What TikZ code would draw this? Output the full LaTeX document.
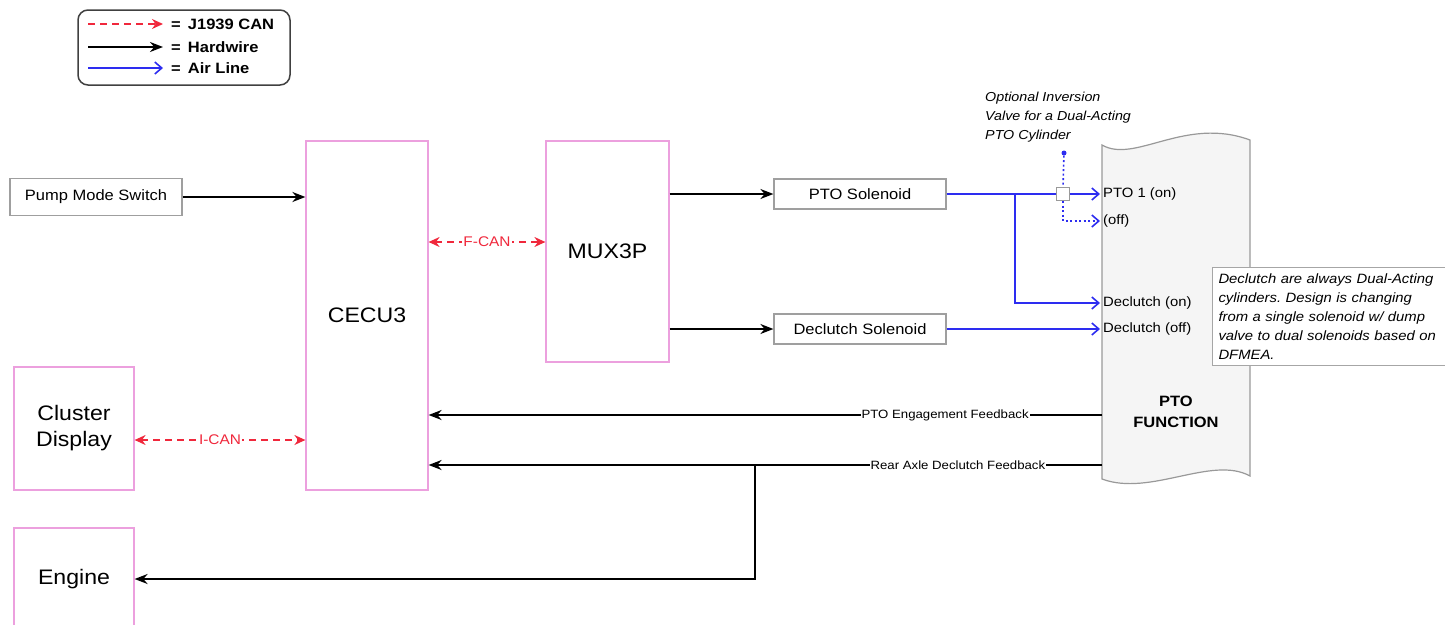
\documentclass[tikz,border=0pt]{standalone}
\usepackage{fontspec}
\setmainfont{Liberation Sans}[FakeStretch=1.1]
\usepackage{xcolor}
\usepackage{tikz}
\usetikzlibrary{arrows.meta, positioning}

\definecolor{unitpink}{RGB}{236,160,222}
\definecolor{canred}{RGB}{240,40,60}
\definecolor{airblue}{RGB}{45,45,240}

\begin{document}
\frenchspacing
\begin{tikzpicture}[
  x=1pt, y=-1pt,
  blk/.style={rectangle, draw=gray!75, line width=1.2pt, fill=white, minimum width=172pt, minimum height=30pt, font=\fontsize{15}{18}\selectfont},
  unit/.style={rectangle, draw=unitpink, line width=1.2pt, fill=white, font=\fontsize{21}{26}\selectfont, align=center},
  hw/.style={line width=1.8pt, >={Stealth[length=13pt, width=10pt]}},
  can/.style={line width=1.5pt, canred, dash pattern=on 7pt off 5pt, >={Stealth[length=11pt, width=10pt]}},
  air/.style={line width=1.6pt, airblue, >={Straight Barb[length=7pt, width=12pt, line width=1.6pt]}},
  lbl/.style={font=\fontsize{13.5}{16}\selectfont, inner sep=3pt, anchor=west},
  fbtext/.style={fill=white, inner sep=1pt, font=\fontsize{12}{14}\selectfont},
  cantext/.style={fill=white, inner sep=1pt, text=canred, font=\fontsize{14}{16}\selectfont},
  legtext/.style={anchor=west, inner xsep=8pt, inner ysep=2pt, font=\bfseries\fontsize{15}{17}\selectfont}
]
\useasboundingbox (0,0) rectangle (1445,624);

% Legend
\draw[rounded corners=10pt, line width=1.5pt, draw=black!75] (78,10) rectangle (290,85);
\node[legtext] (legcan) at (163,24) {= \,J1939 CAN};
\node[legtext] (leghw) at (163,47) {= \,Hardwire};
\node[legtext] (legair) at (163,68) {= \,Air Line};
\coordinate (l1) at (88,24);
\coordinate (l2) at (88,47);
\coordinate (l3) at (88,68);
\draw[can,->] (l1) -- (legcan.west);
\draw[hw,->] (l2) -- (leghw.west);
\draw[air,->] (l3) -- (legair.west);

% PTO function (tape)
\draw[gray!80, fill=gray!8, line width=1.2pt] (1102,145) .. controls (1135,164) and (1185,116) .. (1250,140)
  -- (1250,476) .. controls (1212,455) and (1150,497) .. (1102,479) -- cycle;
\node[font=\bfseries\fontsize{15}{21}\selectfont, align=center] (ptofn) at (1176,412) {PTO\\FUNCTION};

% Units
\node[blk, minimum height=37pt] (pump) at (96,197) {Pump Mode Switch};
\node[unit, minimum width=122pt, minimum height=349pt] (cecu) at (367,315.5) {CECU3};
\node[unit, minimum width=123pt, minimum height=221pt] (mux) at (607.5,251.5) {MUX3P};
\node[blk] (ptosol) at (860,194) {PTO Solenoid};
\node[blk] (dclsol) at (860,329) {Declutch Solenoid};
\node[unit, minimum width=120pt, minimum height=123pt] (cluster) at (74,428.5) {Cluster\\Display};
\node[unit, minimum width=120pt, minimum height=102pt] (engine) at (74,579) {Engine};

% Function inputs
\node[lbl] (pto1on) at (1100,194) {PTO 1 (on)};
\node[lbl] (pto1off) at (1100,221) {(off)};
\node[lbl] (dclon) at (1100,303) {Declutch (on)};
\node[lbl] (dcloff) at (1100,329) {Declutch (off)};

% Inversion valve
\node[rectangle, draw=gray!80, line width=1pt, fill=white, minimum size=13pt, inner sep=0pt] (valve) at (1063,194) {};
\node[circle, fill=airblue, inner sep=0pt, minimum size=5pt] (vdot) at (1064,153) {};
\node[anchor=north west, align=left, inner sep=0pt, font=\itshape\fontsize{13}{19}\selectfont] (vnote) at (985,92)
  {Optional Inversion\\Valve for a Dual-Acting\\PTO Cylinder};

% Note
\node[anchor=north west, draw=gray!70, line width=1pt, fill=white, align=left, text width=234pt, inner sep=6pt,
  font=\itshape\fontsize{13.5}{19}\selectfont] (dnote) at (1212,267)
  {Declutch are always Dual-Acting\\cylinders. Design is changing\\from a single solenoid w/ dump\\valve to dual solenoids based on\\DFMEA.};

% Hardwire
\draw[hw,->] (pump.east) -- (pump.east -| cecu.west);
\draw[hw,->] (mux.east |- ptosol) -- (ptosol);
\draw[hw,->] (mux.east |- dclsol) -- (dclsol);

% CAN links
\coordinate (fcan) at ([yshift=73.5pt]cecu.east);
\draw[can,<->] (fcan) -- (fcan -| mux.west) node[cantext, midway] {F-CAN};
\coordinate (ican) at ([yshift=-11.5pt]cluster.east);
\draw[can,<->] (ican) -- (ican -| cecu.west) node[cantext, midway] {I-CAN};

% Air lines
\coordinate (split) at (1015,194);
\draw[air] (ptosol) -- (valve);
\draw[air,->] (valve) -- (pto1on.west);
\draw[air,->] (split) |- (dclon.west);
\draw[air,->] (dclsol) -- (dcloff.west);
\draw[air, dash pattern=on 2pt off 2.5pt] (vdot) -- (valve.north);
\draw[air, dash pattern=on 2pt off 2.5pt, ->] (valve.south) |- (pto1off.west);

% Feedback
\coordinate (fbA) at (1102,415);
\coordinate (fbB) at (1102,465);
\coordinate (tap) at (755,465);
\draw[hw,->] (fbA) -- (fbA -| cecu.east) node[fbtext, pos=0.233] {PTO Engagement Feedback};
\draw[hw,->] (fbB) -- (fbB -| cecu.east) node[fbtext, pos=0.214] {Rear Axle Declutch Feedback};
\draw[hw,->] (tap) |- (engine.east);
\end{tikzpicture}
\end{document}
